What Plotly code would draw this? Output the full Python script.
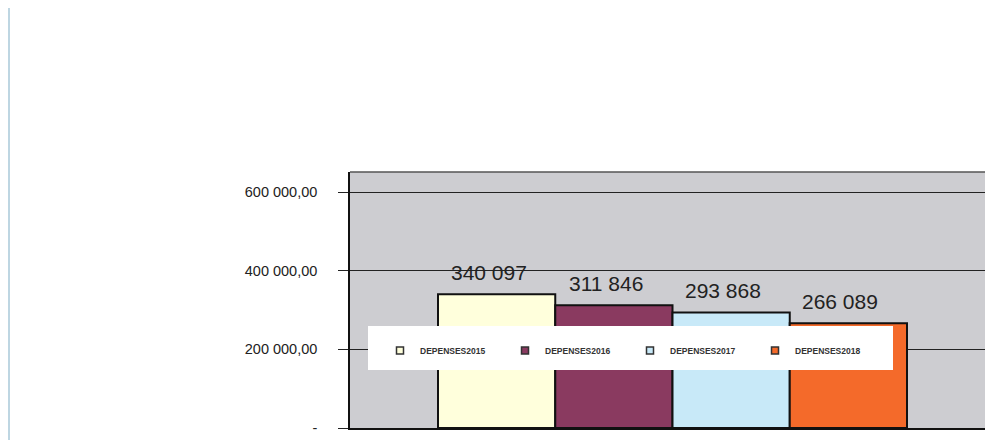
import plotly.graph_objects as go

series_names = ["DEPENSES2015", "DEPENSES2016", "DEPENSES2017", "DEPENSES2018"]
series_values = [340097, 311846, 293868, 266089]
series_colors = ["#FFFFDC", "#8A3A60", "#C8E9F8", "#F46A2A"]
tick_values = [0, 200000, 400000, 600000]
tick_labels = ["-", "200 000,00", "400 000,00", "600 000,00"]

# page offset (default body margin of the html page)
OX, OY = 8, 8
W, H = 993 - OX, 442 - OY
L, R, T, B = 350 - OX, 0, 172 - OY, 14
pw = W - L - R
ph = H - T - B

def px_x(x):
    return (x - OX - L) / pw

def px_y(y):
    return (H + OY - B - y) / ph

fig = go.Figure()
for i, (name, val, col) in enumerate(zip(series_names, series_values, series_colors)):
    fig.add_trace(go.Bar(
        x=[i], y=[val], name=name, width=1, showlegend=False,
        marker=dict(color=col, line=dict(color="#111111", width=2)),
    ))
    fig.add_annotation(
        x=i, y=val, xref="x", yref="y",
        text=f"{val:,}".replace(",", " "),
        showarrow=False, yanchor="bottom", yshift=8, xshift=-8,
        font=dict(family="Liberation Sans, Arial", size=21, color="#222222"),
    )
    # legend entry with small square swatch
    fig.add_trace(go.Scatter(
        x=[None], y=[None], name=name, mode="markers",
        marker=dict(symbol="square", size=7, color=col,
                    line=dict(color="#333333", width=1.5)),
    ))

# x range so that bars span 438..907 px
unit = (907 - 438) / 4
x0 = -0.5 - (438 - 350) / unit
x1 = x0 + (993 - 350) / unit

fig.update_layout(
    width=W, height=H,
    margin=dict(l=L, r=R, t=T, b=B, autoexpand=False),
    paper_bgcolor="white",
    plot_bgcolor="#CDCDD1",
    barmode="overlay",
    font=dict(family="Liberation Sans, Arial", color="#222222"),
    showlegend=True,
    legend=dict(
        orientation="h",
        x=px_x(380), y=px_y(336), xanchor="left", yanchor="top",
        bgcolor="rgba(0,0,0,0)",
        font=dict(family="Liberation Sans, Arial",
                  size=8.5, color="#333333", weight="bold"),
        entrywidth=80, entrywidthmode="pixels",
        traceorder="normal",
    ),
    xaxis=dict(
        range=[x0, x1],
        showticklabels=False, showgrid=False, zeroline=False,
        showline=True, linecolor="#111111", linewidth=1.5,
    ),
    yaxis=dict(
        range=[0, 651000],
        tickvals=tick_values, ticktext=tick_labels,
        ticks="outside", ticklen=10, tickcolor="#222222", tickwidth=1,
        showgrid=True, gridcolor="#222222", gridwidth=1,
        zeroline=False,
        showline=True, linecolor="#111111", linewidth=1.5,
        tickfont=dict(size=14.5, color="#222222"),
        ticklabelstandoff=18,
    ),
    shapes=[
        dict(type="rect", xref="paper", yref="paper",
             x0=px_x(368), x1=px_x(893), y0=px_y(370), y1=px_y(326),
             fillcolor="white", line=dict(width=0), layer="above"),
        dict(type="line", xref="paper", yref="paper",
             x0=0, x1=1, y0=1, y1=1,
             line=dict(color="#555555", width=1.5)),
        dict(type="line", xref="paper", yref="paper",
             x0=px_x(9), x1=px_x(9), y0=px_y(5), y1=px_y(440),
             line=dict(color="#A8C8D8", width=1.5)),
    ],
)

fig.write_html("out.html")
